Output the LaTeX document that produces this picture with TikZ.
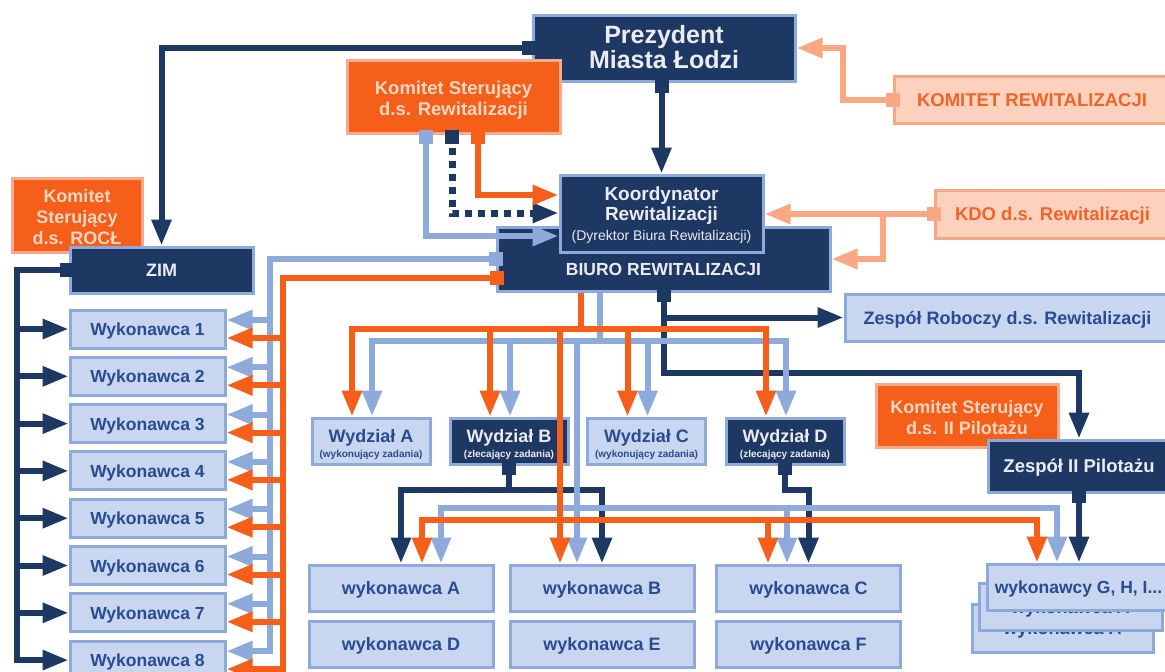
\documentclass[tikz,border=0pt]{standalone}
\usepackage{fontspec}
\setmainfont{Liberation Sans}
\usetikzlibrary{arrows.meta,calc}
\definecolor{navy}{RGB}{30,56,100}
\definecolor{lbfill}{RGB}{200,214,240}
\definecolor{lbline}{RGB}{142,170,219}
\definecolor{lbtext}{RGB}{40,75,145}
\definecolor{orng}{RGB}{245,95,25}
\definecolor{orngborder}{RGB}{250,170,140}
\definecolor{orngtext}{RGB}{250,215,195}
\definecolor{peachfill}{RGB}{252,210,190}
\definecolor{peachline}{RGB}{250,168,132}
\definecolor{peachtext}{RGB}{240,100,40}
\definecolor{navytext}{RGB}{235,235,240}
\begin{document}
\begin{tikzpicture}[x=1pt,y=-1pt,
  box/.style={draw, line width=3pt, inner sep=0pt, text height=13pt, text depth=0pt, font=\bfseries\fontsize{18}{21}\selectfont},
  navybox/.style={box, fill=navy, draw=lbline, text=navytext},
  lbbox/.style={box, fill=lbfill, draw=lbline, text=lbtext},
  orbox/.style={box, fill=orng, draw=orngborder, text=orngtext},
  pebox/.style={box, fill=peachfill, draw=peachline, text=peachtext},
  txt/.style={anchor=base, inner sep=0pt, font=\bfseries\fontsize{18}{21}\selectfont},
  ln/.style={line width=6pt},
  nv/.style={ln, draw=navy},
  lb/.style={ln, draw=lbline},
  orl/.style={ln, draw=orng},
  pel/.style={ln, draw=peachline},
  arr/.style={-{Triangle[length=26pt,width=19pt]}},
  darr/.style={{Triangle[length=26pt,width=19pt]}-{Triangle[length=26pt,width=19pt]}},
  stubsq/.style={inner sep=0pt, minimum width=14pt, minimum height=14pt, draw=none},
]
\clip (0,0) rectangle (1165,672);
\useasboundingbox (0,0) rectangle (1165,672);
\fill[white] (0,0) rectangle (1165,672);

% ---------- left column
\node[orbox, minimum width=130pt, minimum height=74pt] (rocl) at (77,215) {};
\node[txt, text=orngtext] (rocl1) at (77,202) {Komitet};
\node[txt, text=orngtext] (rocl2) at (77,223) {Sterujący};
\node[txt, text=orngtext] (rocl3) at (77,244) {d.s. ROCŁ};
\node[navybox, minimum width=183pt, minimum height=46pt] (zim) at (161.5,270) {ZIM};
\foreach \k in {1,...,8}
  \node[lbbox, minimum width=155pt, minimum height=38pt, font=\bfseries\fontsize{17.5}{21}\selectfont] (wyk\k) at (147.5,{329+(\k-1)*47.3}) {Wykonawca \k};

% ---------- top
\node[navybox, minimum width=262pt, minimum height=66pt] (prez) at (664,48) {};
\node[txt, text=navytext, font=\bfseries\fontsize{25}{25}\selectfont] (prez1) at (664,43) {Prezydent};
\node[txt, text=navytext, font=\bfseries\fontsize{25}{25}\selectfont] (prez2) at (664,68.5) {Miasta Łodzi};
\node[orbox, minimum width=213pt, minimum height=73pt] (ksr) at (453.5,96.5) {};
\node[txt, text=orngtext, font=\bfseries\fontsize{18.5}{21}\selectfont] (ksr1) at (453.5,94) {Komitet Sterujący};
\node[txt, text=orngtext, font=\bfseries\fontsize{18.5}{21}\selectfont] (ksr2) at (453.5,115) {d.s. Rewitalizacji};
\node[pebox, minimum width=276pt, minimum height=47pt, font=\bfseries\fontsize{18.5}{21}\selectfont] (krew) at (1032,99.5) {KOMITET REWITALIZACJI};
\node[pebox, minimum width=235pt, minimum height=48pt, font=\bfseries\fontsize{18.5}{21}\selectfont] (kdo) at (1052.5,214) {KDO d.s. Rewitalizacji};
\node[navybox, minimum width=333pt, minimum height=64pt] (biuro) at (663.5,259) {};
\node[txt, text=navytext, font=\bfseries\fontsize{17.5}{21}\selectfont] (biuro1) at (663.5,275) {BIURO REWITALIZACJI};
\node[navybox, minimum width=203pt, minimum height=77pt] (koord) at (661.5,213.5) {};
\node[txt, text=navytext, font=\bfseries\fontsize{19}{21}\selectfont] (koord1) at (661.5,200) {Koordynator};
\node[txt, text=navytext, font=\bfseries\fontsize{19}{21}\selectfont] (koord2) at (661.5,220) {Rewitalizacji};
\node[txt, text=navytext, font=\fontsize{14}{16}\selectfont] (koord3) at (661.5,240) {(Dyrektor Biura Rewitalizacji)};
\node[lbbox, minimum width=325pt, minimum height=47pt] (zrob) at (1007.5,317.5) {Zespół Roboczy d.s. Rewitalizacji};

% ---------- Wydzialy
\node[lbbox, minimum width=118pt, minimum height=46pt] (wA) at (371,441) {};
\node[txt, text=lbtext] (wA1) at (371,442) {Wydział A};
\node[txt, text=lbtext, font=\bfseries\fontsize{10}{10}\selectfont] (wA2) at (371,457) {(wykonujący zadania)};
\node[navybox, minimum width=118pt, minimum height=46pt] (wB) at (509,441) {};
\node[txt, text=navytext] (wB1) at (509,442) {Wydział B};
\node[txt, text=navytext, font=\bfseries\fontsize{10}{10}\selectfont] (wB2) at (509,457) {(zlecający zadania)};
\node[lbbox, minimum width=118pt, minimum height=46pt] (wC) at (646.5,441) {};
\node[txt, text=lbtext] (wC1) at (646.5,442) {Wydział C};
\node[txt, text=lbtext, font=\bfseries\fontsize{10}{10}\selectfont] (wC2) at (646.5,457) {(wykonujący zadania)};
\node[navybox, minimum width=118pt, minimum height=46pt] (wD) at (785,441) {};
\node[txt, text=navytext] (wD1) at (785,442) {Wydział D};
\node[txt, text=navytext, font=\bfseries\fontsize{10}{10}\selectfont] (wD2) at (785,457) {(zlecający zadania)};

% ---------- pilotaz
\node[orbox, minimum width=182pt, minimum height=63pt] (kpil) at (967,415.5) {};
\node[txt, text=orngtext] (kpil1) at (967,413) {Komitet Sterujący};
\node[txt, text=orngtext] (kpil2) at (967,434) {d.s. II Pilotażu};
\node[navybox, minimum width=182pt, minimum height=52pt, font=\bfseries\fontsize{18.5}{21}\selectfont] (zpil) at (1079,466) {Zespół II Pilotażu};

% ---------- wykonawcy
\node[lbbox, minimum width=184pt, minimum height=46pt] (wykA) at (401,588) {wykonawca A};
\node[lbbox, minimum width=184pt, minimum height=46pt] (wykB) at (602,588) {wykonawca B};
\node[lbbox, minimum width=184pt, minimum height=46pt] (wykC) at (808.5,588) {wykonawca C};
\node[lbbox, minimum width=184pt, minimum height=46pt] (wykD) at (401,644) {wykonawca D};
\node[lbbox, minimum width=184pt, minimum height=46pt] (wykE) at (602,644) {wykonawca E};
\node[lbbox, minimum width=184pt, minimum height=46pt] (wykF) at (808.5,644) {wykonawca F};
\node[lbbox, minimum width=181pt, minimum height=48pt] (wykG3) at (1062.5,628) {wykonawca A};
\node[lbbox, minimum width=183pt, minimum height=47pt] (wykG2) at (1070.5,606.5) {wykonawca A};
\node[lbbox, minimum width=183pt, minimum height=46pt, font=\bfseries\fontsize{17.5}{21}\selectfont] (wykG) at (1078.5,587) {wykonawcy G, H, I...};

% ---------- coordinates
\coordinate (zbus) at (17,270);
\coordinate (lbbus) at (270,259);
\coordinate (orA) at (497,278);
\coordinate (orbus) at (283,278);
\foreach \k in {1,...,8} {
  \coordinate (lbk\k) at ($(wyk\k.east)+(0,-9)$);
  \coordinate (ork\k) at ($(wyk\k.east)+(0,9)$);
}
\coordinate (pS) at (koord.north |- prez.south);
\coordinate (kn) at ($(ksr.south)+(-1.5,0)$);
\coordinate (klb) at ($(ksr.south)+(-27.5,0)$);
\coordinate (kor) at ($(ksr.south)+(24.5,0)$);
\coordinate (kn2) at ($(koord.west)+(-26,-0.5)$);
\coordinate (nh) at (663.5,373);
\coordinate (nl) at (0,490);
\coordinate (lh) at (600,341);
\coordinate (oh) at (581,329);
\coordinate (ll) at (0,508);
\coordinate (ol) at (0,520);
\foreach \w in {wA,wB,wC,wD} {
  \coordinate (lb\w) at ($(\w.north)+(1,0)$);
  \coordinate (or\w) at ($(\w.north)+(-19,0)$);
}
\coordinate (lbB) at ($(wykB.north)+(-25,0)$);
\coordinate (orB) at ($(wykB.north)+(-42,0)$);
\coordinate (lbA) at ($(wykA.north)+(40,0)$);
\coordinate (owA) at ($(wykA.north)+(21,0)$);
\coordinate (lbC) at ($(wykC.north)+(-21.5,0)$);
\coordinate (owC) at ($(wykC.north)+(-40.5,0)$);
\coordinate (lbG) at ($(wykG.north)+(-21.5,0)$);
\coordinate (owG) at ($(wykG.north)+(-41.5,0)$);
\coordinate (pk) at (843,99.5);
\coordinate (pb) at (883,214);

% ---------- navy connectors
\draw[nv,arr] (prez.west) -| (zim.north);
\draw[nv,arr] (pS) -- (koord.north);
\draw[nv,arr] (zim.west) -- (zbus) |- (wyk8.west);
\foreach \k in {1,...,7} \draw[nv,arr] (zbus |- wyk\k.west) -- (wyk\k.west);
\draw[nv,arr] (biuro.south) -- (nh) -| (zpil.north);
\draw[nv,arr] (biuro.south |- zrob.west) -- (zrob.west);
\draw[nv] (wB.south) -- (wB.south |- nl);
\draw[nv,darr] (wykA.north) |- (wykB.north |- nl) -- (wykB.north);
\draw[nv,arr] (wD.south) |- (wykC.north |- nl) -- (wykC.north);
\draw[nv,arr] (zpil.south) -- (zpil.south |- wykG.north);
\draw[nv, line width=7pt, dash pattern=on 7pt off 6pt] (kn) |- (kn2);
\draw[nv,arr] (kn2) -- (kn2 -| koord.west);

% ---------- light blue connectors
\draw[lb,arr] (biuro.west) -- (lbbus) |- (lbk8);
\foreach \k in {1,...,7} \draw[lb,arr] (lbbus |- lbk\k) -- (lbk\k);
\draw[lb,arr] (klb) |- ($(koord.west)+(0,22.5)$);
\draw[lb] (biuro.south -| lh) -- (lh);
\draw[lb,darr] (lbwA) |- (lbwD |- lh) -- (lbwD);
\draw[lb,arr] (lbwB |- lh) -- (lbwB);
\draw[lb,arr] (lbwC |- lh) -- (lbwC);
\draw[lb,arr] (lbB |- lh) -- (lbB);
\draw[lb,darr] (lbA) |- (lbG |- ll) -- (lbG);
\draw[lb,arr] (lbC |- ll) -- (lbC);

% ---------- orange connectors
\draw[orl,arr] (orA) -- (orbus) |- (ork8);
\foreach \k in {1,...,7} \draw[orl,arr] (orbus |- ork\k) -- (ork\k);
\draw[orl,arr] (kor) |- ($(koord.west)+(0,-18.5)$);
\draw[orl] (biuro.south -| oh) -- (oh);
\draw[orl,darr] (orwA) |- (orwD |- oh) -- (orwD);
\draw[orl,arr] (orwB |- oh) -- (orwB);
\draw[orl,arr] (orwC |- oh) -- (orwC);
\draw[orl,arr] (orB |- oh) -- (orB);
\draw[orl,darr] (owA) |- (owG |- ol) -- (owG);
\draw[orl,arr] (owC |- ol) -- (owC);

% ---------- peach connectors
\draw[pel,arr] (krew.west) -- (pk) |- (prez.east);
\draw[pel,arr] (kdo.west) -- (koord.east |- kdo.west);
\draw[pel,arr] (pb) |- (biuro.east);

% ---------- stubs
\node[stubsq, fill=navy] (s1) at ($(prez.west)+(-3,0)$) {};
\node[stubsq, fill=navy] (s2) at ($(pS)+(0,3)$) {};
\node[stubsq, fill=lbline] (s3) at ($(klb)+(0,2)$) {};
\node[stubsq, fill=navy] (s4) at ($(kn)+(0,2)$) {};
\node[stubsq, fill=orng] (s5) at ($(kor)+(0,2)$) {};
\node[stubsq, fill=peachline] (s6) at (krew.west) {};
\node[stubsq, fill=peachline] (s7) at (kdo.west) {};
\node[stubsq, fill=navy] (s8) at ($(zim.west)+(-2,0)$) {};
\node[stubsq, fill=lbline] (s9) at (biuro.west) {};
\node[stubsq, fill=orng] (s10) at (orA) {};
\node[stubsq, fill=navy] (s11) at ($(biuro.south)+(0,2)$) {};
\node[stubsq, fill=navy] (s12) at ($(wB.south)+(0,2)$) {};
\node[stubsq, fill=navy] (s13) at ($(wD.south)+(0,2)$) {};
\node[stubsq, fill=navy] (s14) at ($(zpil.south)+(0,2)$) {};
\end{tikzpicture}
\end{document}
